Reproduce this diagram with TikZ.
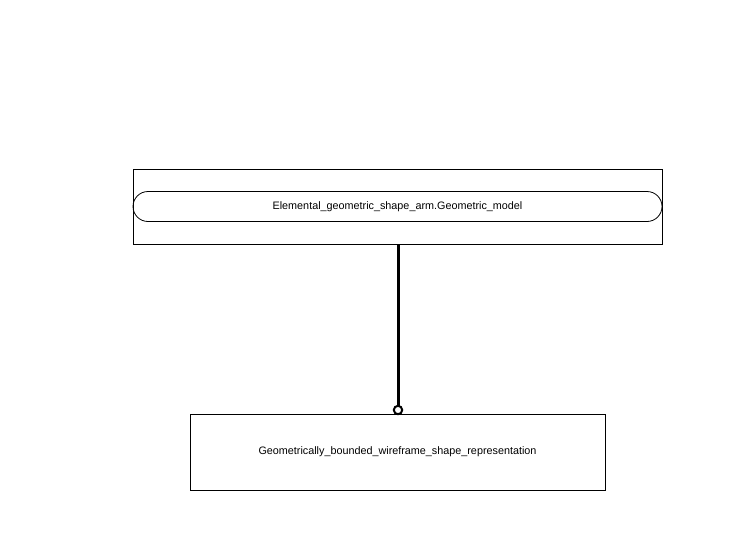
\documentclass[tikz,border=0pt]{standalone}
\usepackage{fontspec}
\setmainfont{Liberation Sans}
\usetikzlibrary{positioning}

\begin{document}
\begin{tikzpicture}[x=1pt, y=-1pt]
\tikzstyle{entity} = [draw, line width=0.8pt, inner sep=0pt, font=\fontsize{10.8}{13}\selectfont]
\tikzstyle{attr} = [draw, line width=0.8pt, rounded corners=15pt, inner sep=0pt, font=\fontsize{10.8}{13}\selectfont]
\tikzstyle{link} = [line width=3pt]
\useasboundingbox (0,0) rectangle (733,549);
\node[entity, minimum width=529pt, minimum height=75pt] (model) at (397.5, 206.5) {};
\node[attr, minimum width=529pt, minimum height=30pt] (modelname) at (397.5, 206.5) {Elemental\_geometric\_shape\_arm.Geometric\_model};
\node[entity, minimum width=415pt, minimum height=76pt] (wireframe) at (397.5, 452) {Geometrically\_bounded\_wireframe\_shape\_representation};
\coordinate (tip) at (398, 410);
\draw[link] (398, 244) -- (tip);
\draw[line width=2pt, fill=white] (tip) circle (4.2pt);
\end{tikzpicture}
\end{document}
